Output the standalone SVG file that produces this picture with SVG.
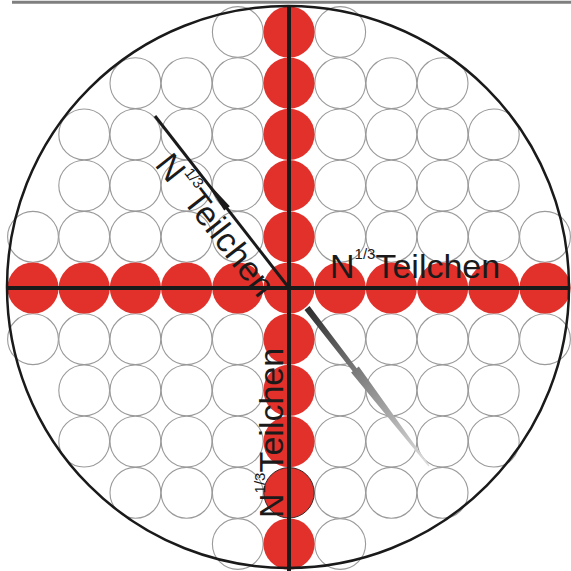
<svg xmlns="http://www.w3.org/2000/svg" width="571" height="571" viewBox="0 0 571 571">
<style>
.g{fill:#fff;stroke:#9a9a9a;stroke-width:1.1}
.r{fill:#e2302a}
.t{font-family:"Liberation Sans",Arial,sans-serif;font-size:34px;fill:#1a1a1a}
.s{font-size:15px}
</style>
<defs>
<linearGradient id="gg" gradientUnits="userSpaceOnUse" x1="307" y1="308" x2="429" y2="466">
<stop offset="0" stop-color="#2e2e2e"/>
<stop offset="0.4" stop-color="#7a7a7a"/>
<stop offset="1" stop-color="#e0e0e0"/>
</linearGradient>
</defs>
<rect width="571" height="571" fill="#fff"/>
<line x1="12" y1="2.2" x2="571" y2="2.2" stroke="#7f7f7f" stroke-width="3"/>
<g id="grid">
<circle class="g" cx="237.8" cy="32" r="25.4"/><circle class="g" cx="340.2" cy="32" r="25.4"/>
<circle class="g" cx="135.4" cy="83.2" r="25.4"/><circle class="g" cx="186.6" cy="83.2" r="25.4"/><circle class="g" cx="237.8" cy="83.2" r="25.4"/><circle class="g" cx="340.2" cy="83.2" r="25.4"/><circle class="g" cx="391.4" cy="83.2" r="25.4"/><circle class="g" cx="442.6" cy="83.2" r="25.4"/>
<circle class="g" cx="84.2" cy="134.4" r="25.4"/><circle class="g" cx="135.4" cy="134.4" r="25.4"/><circle class="g" cx="186.6" cy="134.4" r="25.4"/><circle class="g" cx="237.8" cy="134.4" r="25.4"/><circle class="g" cx="340.2" cy="134.4" r="25.4"/><circle class="g" cx="391.4" cy="134.4" r="25.4"/><circle class="g" cx="442.6" cy="134.4" r="25.4"/><circle class="g" cx="493.8" cy="134.4" r="25.4"/>
<circle class="g" cx="84.2" cy="185.6" r="25.4"/><circle class="g" cx="135.4" cy="185.6" r="25.4"/><circle class="g" cx="186.6" cy="185.6" r="25.4"/><circle class="g" cx="237.8" cy="185.6" r="25.4"/><circle class="g" cx="340.2" cy="185.6" r="25.4"/><circle class="g" cx="391.4" cy="185.6" r="25.4"/><circle class="g" cx="442.6" cy="185.6" r="25.4"/><circle class="g" cx="493.8" cy="185.6" r="25.4"/>
<circle class="g" cx="33" cy="236.8" r="25.4"/><circle class="g" cx="84.2" cy="236.8" r="25.4"/><circle class="g" cx="135.4" cy="236.8" r="25.4"/><circle class="g" cx="186.6" cy="236.8" r="25.4"/><circle class="g" cx="237.8" cy="236.8" r="25.4"/><circle class="g" cx="340.2" cy="236.8" r="25.4"/><circle class="g" cx="391.4" cy="236.8" r="25.4"/><circle class="g" cx="442.6" cy="236.8" r="25.4"/><circle class="g" cx="493.8" cy="236.8" r="25.4"/><circle class="g" cx="545" cy="236.8" r="25.4"/>
<circle class="g" cx="33" cy="339.2" r="25.4"/><circle class="g" cx="84.2" cy="339.2" r="25.4"/><circle class="g" cx="135.4" cy="339.2" r="25.4"/><circle class="g" cx="186.6" cy="339.2" r="25.4"/><circle class="g" cx="237.8" cy="339.2" r="25.4"/><circle class="g" cx="340.2" cy="339.2" r="25.4"/><circle class="g" cx="391.4" cy="339.2" r="25.4"/><circle class="g" cx="442.6" cy="339.2" r="25.4"/><circle class="g" cx="493.8" cy="339.2" r="25.4"/><circle class="g" cx="545" cy="339.2" r="25.4"/>
<circle class="g" cx="84.2" cy="390.4" r="25.4"/><circle class="g" cx="135.4" cy="390.4" r="25.4"/><circle class="g" cx="186.6" cy="390.4" r="25.4"/><circle class="g" cx="237.8" cy="390.4" r="25.4"/><circle class="g" cx="340.2" cy="390.4" r="25.4"/><circle class="g" cx="391.4" cy="390.4" r="25.4"/><circle class="g" cx="442.6" cy="390.4" r="25.4"/><circle class="g" cx="493.8" cy="390.4" r="25.4"/>
<circle class="g" cx="84.2" cy="441.6" r="25.4"/><circle class="g" cx="135.4" cy="441.6" r="25.4"/><circle class="g" cx="186.6" cy="441.6" r="25.4"/><circle class="g" cx="237.8" cy="441.6" r="25.4"/><circle class="g" cx="340.2" cy="441.6" r="25.4"/><circle class="g" cx="391.4" cy="441.6" r="25.4"/><circle class="g" cx="442.6" cy="441.6" r="25.4"/><circle class="g" cx="493.8" cy="441.6" r="25.4"/>
<circle class="g" cx="135.4" cy="492.8" r="25.4"/><circle class="g" cx="186.6" cy="492.8" r="25.4"/><circle class="g" cx="237.8" cy="492.8" r="25.4"/><circle class="g" cx="340.2" cy="492.8" r="25.4"/><circle class="g" cx="391.4" cy="492.8" r="25.4"/><circle class="g" cx="442.6" cy="492.8" r="25.4"/>
<circle class="g" cx="237.8" cy="544" r="25.4"/><circle class="g" cx="340.2" cy="544" r="25.4"/>
</g>
<g id="red">
<circle class="r" cx="33" cy="288" r="25.6"/><circle class="r" cx="84.2" cy="288" r="25.6"/><circle class="r" cx="135.4" cy="288" r="25.6"/><circle class="r" cx="186.6" cy="288" r="25.6"/><circle class="r" cx="237.8" cy="288" r="25.6"/><circle class="r" cx="289" cy="288" r="25.6"/><circle class="r" cx="340.2" cy="288" r="25.6"/><circle class="r" cx="391.4" cy="288" r="25.6"/><circle class="r" cx="442.6" cy="288" r="25.6"/><circle class="r" cx="493.8" cy="288" r="25.6"/><circle class="r" cx="545" cy="288" r="25.6"/>
<circle class="r" cx="289" cy="32" r="25.6"/><circle class="r" cx="289" cy="83.2" r="25.6"/><circle class="r" cx="289" cy="134.4" r="25.6"/><circle class="r" cx="289" cy="185.6" r="25.6"/><circle class="r" cx="289" cy="236.8" r="25.6"/><circle class="r" cx="289" cy="339.2" r="25.6"/><circle class="r" cx="289" cy="390.4" r="25.6"/><circle class="r" cx="289" cy="441.6" r="25.6"/><circle class="r" cx="289" cy="492.8" r="25.2" stroke="#3a2a2a" stroke-width="1"/><circle class="r" cx="289" cy="544" r="25.6"/>
</g>
<g id="axes" stroke="#1a1a1a" stroke-width="4">
<line x1="7" y1="288" x2="570" y2="288"/>
<line x1="289" y1="5" x2="289" y2="571"/>
</g>
<circle id="boundary" cx="288" cy="287" r="281" fill="none" stroke="#1a1a1a" stroke-width="2.5"/>
<g id="connectors">
<line x1="155" y1="116" x2="289" y2="288" stroke="#1a1a1a" stroke-width="3"/>
<polygon points="203,177.5 229.8,206.2 224.2,210.5" fill="#1a1a1a"/>
<polygon points="309.5,306 356.7,368.2 358.8,366.6 429.5,465.6 428.5,466.4 351.1,372.5 352.7,371.2 304.5,310" fill="url(#gg)"/>
</g>
<g id="labels" class="t">
<text x="330" y="277.5">N<tspan class="s" dy="-18.5">1/3</tspan><tspan dy="18.5">Teilchen</tspan></text>
<text transform="translate(283,518) rotate(-90)">N<tspan class="s" dy="-18.5">1/3</tspan><tspan dy="18.5">Teilchen</tspan></text>
<text transform="translate(154,165) rotate(52)">N<tspan class="s" dy="-18.5">1/3</tspan><tspan dy="18.5">Teilchen</tspan></text>
</g>
</svg>
